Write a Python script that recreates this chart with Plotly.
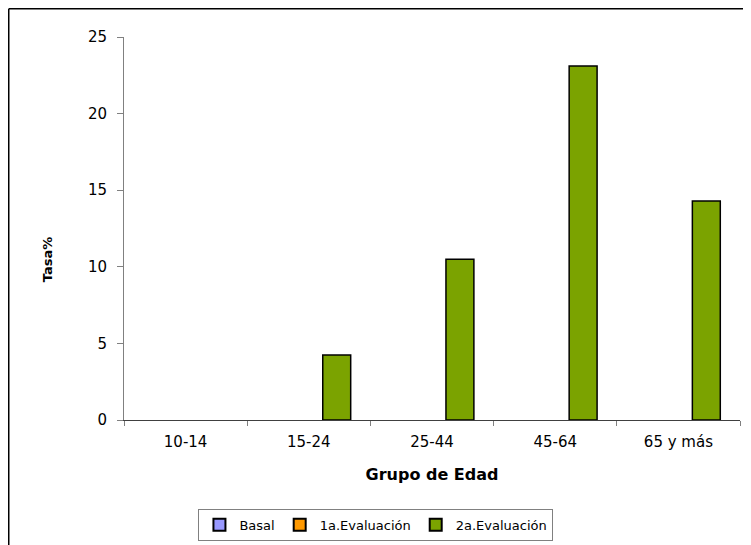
import plotly.graph_objects as go

categories = ["10-14", "15-24", "25-44", "45-64", "65 y más"]
basal = [None, None, None, None, None]
eval1 = [None, None, None, None, None]
eval2 = [None, 4.24, 10.5, 23.1, 14.3]
y_ticks = [0, 5, 10, 15, 20, 25]

font_family = "DejaVu Sans, Verdana, sans-serif"

fig = go.Figure()
fig.add_trace(go.Bar(name="Basal", x=categories, y=basal,
                     marker=dict(color="#9999ff", line=dict(color="#000000", width=1.5))))
fig.add_trace(go.Bar(name="1a.Evaluación", x=categories, y=eval1,
                     marker=dict(color="#ff9900", line=dict(color="#000000", width=1.5))))
fig.add_trace(go.Bar(name="2a.Evaluación", x=categories, y=eval2,
                     marker=dict(color="#7ba300", line=dict(color="#000000", width=1.5))))

fig.update_layout(
    width=743, height=537,
    margin=dict(l=116, r=11, t=29, b=125, autoexpand=False),
    paper_bgcolor="white", plot_bgcolor="white",
    barmode="group", bargap=0.32, bargroupgap=0,
    font=dict(family=font_family, size=14, color="#000000"),
    showlegend=True,
    legend=dict(orientation="h", x=0.409, xanchor="center", y=-0.232, yanchor="top",
                bordercolor="#808080", borderwidth=1, font=dict(size=13),
                itemsizing="constant", traceorder="normal", tracegroupgap=0,
                itemwidth=30),
    xaxis=dict(
        type="category", tickson="boundaries", ticks="outside", ticklen=5,
        tickcolor="#808080", showline=True, linecolor="#404040", linewidth=1,
        showgrid=False, tickfont=dict(size=15), automargin=False,
        ticklabelstandoff=8,
        title=dict(text="<b>Grupo de Edad</b>", font=dict(size=16), standoff=18),
    ),
    yaxis=dict(
        range=[0, 25], tickvals=y_ticks, ticks="outside", ticklen=6,
        tickcolor="#808080", showline=True, linecolor="#808080", linewidth=1,
        showgrid=False, zeroline=False, tickfont=dict(size=15), automargin=False,
        ticklabelstandoff=7,
    ),
    annotations=[
        dict(text="<b>Tasa%</b>", xref="paper", yref="paper", x=-0.125, y=0.42,
             textangle=-90, showarrow=False, font=dict(size=13),
             xanchor="center", yanchor="middle"),
    ],
    shapes=[
        dict(type="line", xref="paper", yref="paper", x0=-0.1871, x1=1.05,
             y0=1.0738, y1=1.0738, line=dict(color="#000000", width=1.5)),
        dict(type="line", xref="paper", yref="paper", x0=-0.1871, x1=-0.1871,
             y0=1.0738, y1=-0.35, line=dict(color="#000000", width=1.5)),
    ],
)

fig.write_html("out.html")
